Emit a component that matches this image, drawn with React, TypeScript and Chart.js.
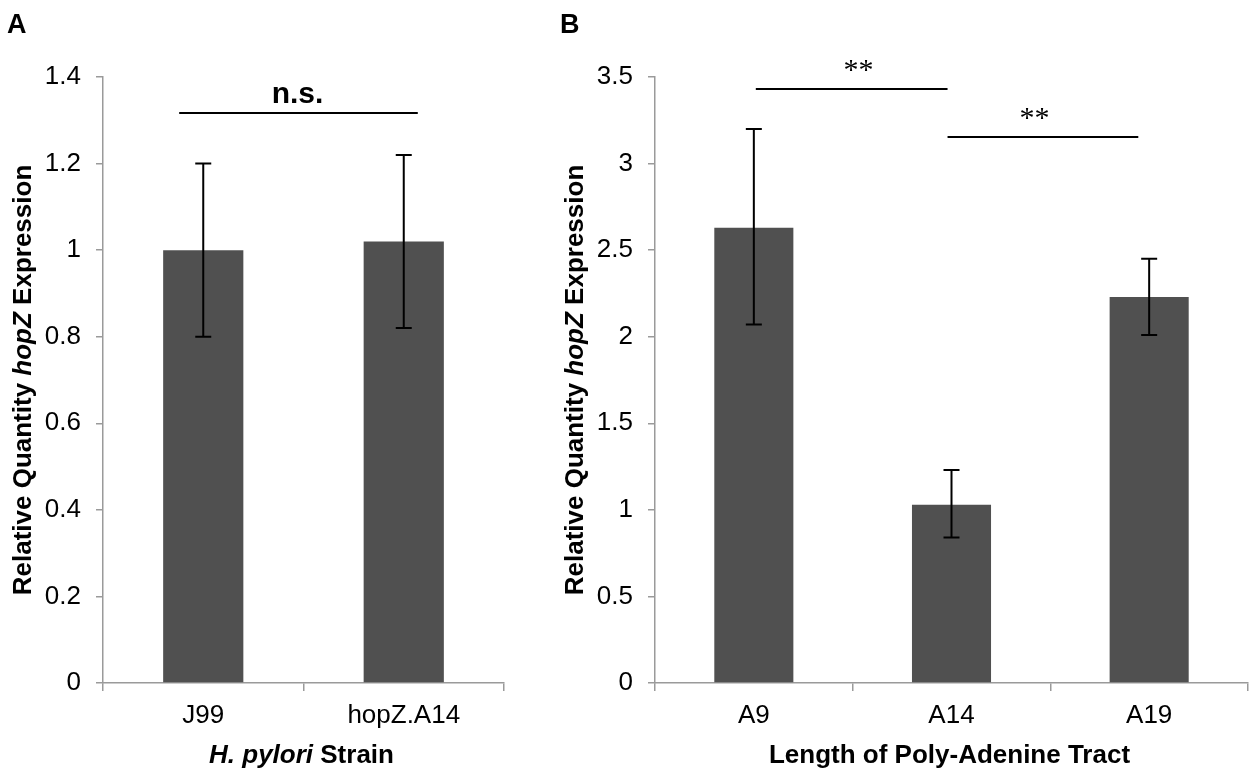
import React, { useEffect, useRef } from 'react';
import { Chart, registerables } from 'chart.js';

Chart.register(...registerables);

// ---------- Panel A data ----------
const strainCategories = ['J99', 'hopZ.A14'];
const strainValues = [1.0, 1.02];
const strainErrLow = [0.8, 0.82];
const strainErrHigh = [1.2, 1.22];
const strainYTicks = [0, 0.2, 0.4, 0.6, 0.8, 1, 1.2, 1.4];
const strainBrackets = [{ from: -0.12, to: 1.07, level: 1.317, label: 'n.s.', textAt: 0.47 }];

// ---------- Panel B data ----------
const tractCategories = ['A9', 'A14', 'A19'];
const tractValues = [2.63, 1.03, 2.23];
const tractErrLow = [2.07, 0.84, 2.01];
const tractErrHigh = [3.2, 1.23, 2.45];
const tractYTicks = [0, 0.5, 1, 1.5, 2, 2.5, 3, 3.5];
const tractBrackets = [
  { from: 0.01, to: 0.98, level: 3.43, label: '**', textAt: 0.53 },
  { from: 0.98, to: 1.945, level: 3.155, label: '**', textAt: 1.42 },
];

type Part = { text: string; italic: boolean };

const SANS = '"Liberation Sans", Arial, Helvetica, sans-serif';
const SERIF = '"Liberation Serif", "Times New Roman", serif';

function drawRich(ctx: CanvasRenderingContext2D, parts: Part[], cx: number, baseline: number, size: number) {
  const fonts = parts.map((p) => `${p.italic ? 'italic ' : ''}bold ${size}px ${SANS}`);
  const widths = parts.map((p, i) => {
    ctx.font = fonts[i];
    return ctx.measureText(p.text).width;
  });
  const total = widths.reduce((a, b) => a + b, 0);
  let x0 = cx - total / 2;
  ctx.textAlign = 'left';
  ctx.textBaseline = 'alphabetic';
  parts.forEach((p, i) => {
    ctx.font = fonts[i];
    ctx.fillText(p.text, x0, baseline);
    x0 += widths[i];
  });
}

const decorPlugin = {
  id: 'panelDecor',
  afterDatasetsDraw(chart: any, _args: any, opts: any) {
    const ctx: CanvasRenderingContext2D = chart.ctx;
    const xs = chart.scales.x;
    const ys = chart.scales.y;
    const meta = chart.getDatasetMeta(0);
    ctx.save();
    ctx.strokeStyle = '#000';
    ctx.fillStyle = '#000';
    ctx.lineWidth = 2;
    // error bars
    meta.data.forEach((bar: any, i: number) => {
      const cx = bar.x;
      const yl = ys.getPixelForValue(opts.errLow[i]);
      const yh = ys.getPixelForValue(opts.errHigh[i]);
      ctx.beginPath();
      ctx.moveTo(cx, yl);
      ctx.lineTo(cx, yh);
      ctx.moveTo(cx - 8, yl);
      ctx.lineTo(cx + 8, yl);
      ctx.moveTo(cx - 8, yh);
      ctx.lineTo(cx + 8, yh);
      ctx.stroke();
    });
    // significance brackets
    opts.brackets.forEach((b: any) => {
      const py = Math.round(ys.getPixelForValue(b.level));
      ctx.beginPath();
      ctx.moveTo(xs.getPixelForValue(b.from), py);
      ctx.lineTo(xs.getPixelForValue(b.to), py);
      ctx.stroke();
      ctx.font = opts.bracketFont;
      ctx.textAlign = 'center';
      ctx.textBaseline = 'alphabetic';
      ctx.fillText(b.label, xs.getPixelForValue(b.textAt), py - 10);
    });
    // panel letter
    ctx.font = `bold 27px ${SANS}`;
    ctx.textAlign = 'left';
    ctx.textBaseline = 'alphabetic';
    ctx.fillText(opts.letter, opts.letterX, 33);
    // x title
    const area = chart.chartArea;
    drawRich(ctx, opts.xTitle, (area.left + area.right) / 2 - 2, 763, 26);
    // y title
    ctx.save();
    ctx.translate(opts.yTitleX, (area.top + area.bottom) / 2);
    ctx.rotate(-Math.PI / 2);
    drawRich(ctx, opts.yTitle, 0, 0, 26);
    ctx.restore();
    ctx.restore();
  },
};

type PanelProps = {
  left: number;
  width: number;
  axisWidth: number;
  padRight: number;
  categories: string[];
  values: number[];
  errLow: number[];
  errHigh: number[];
  yTicks: number[];
  brackets: any[];
  bracketFont: string;
  letter: string;
  letterX: number;
  xTitle: Part[];
  yTitle: Part[];
  yTitleX: number;
};

function Panel(p: PanelProps) {
  const ref = useRef<HTMLCanvasElement | null>(null);
  useEffect(() => {
    if (!ref.current) return;
    const gray = '#9a9a9a';
    const chart = new Chart(ref.current, {
      type: 'bar',
      data: {
        labels: p.categories,
        datasets: [
          {
            data: p.values,
            backgroundColor: '#505050',
            borderWidth: 0,
            barPercentage: 1,
            categoryPercentage: 0.4,
          },
        ],
      },
      options: {
        responsive: false,
        animation: false,
        devicePixelRatio: 1,
        layout: { padding: { left: 0, right: p.padRight, top: 77, bottom: 0 } },
        plugins: {
          legend: { display: false },
          tooltip: { enabled: false },
          panelDecor: {
            errLow: p.errLow,
            errHigh: p.errHigh,
            brackets: p.brackets,
            bracketFont: p.bracketFont,
            letter: p.letter,
            letterX: p.letterX,
            xTitle: p.xTitle,
            yTitle: p.yTitle,
            yTitleX: p.yTitleX,
          },
        } as any,
        scales: {
          x: {
            offset: true,
            grid: {
              display: true,
              drawOnChartArea: false,
              drawTicks: true,
              tickLength: 8,
              color: gray,
              lineWidth: 1.5,
              offset: true,
            },
            border: { display: true, color: gray, width: 1.5 },
            ticks: {
              color: '#000',
              font: { family: SANS, size: 26 },
              padding: 9,
              maxRotation: 0,
              autoSkip: false,
            },
            afterFit: (scale: any) => {
              scale.height = 87;
            },
          },
          y: {
            min: p.yTicks[0],
            max: p.yTicks[p.yTicks.length - 1],
            afterBuildTicks: (scale: any) => {
              scale.ticks = p.yTicks.map((v) => ({ value: v }));
            },
            grid: {
              display: true,
              drawOnChartArea: false,
              drawTicks: true,
              tickLength: 7,
              color: gray,
              lineWidth: 1.5,
            },
            border: { display: true, color: gray, width: 1.5 },
            ticks: {
              color: '#000',
              font: { family: SANS, size: 26 },
              padding: 15,
              callback: (v: any) => String(Number(v)),
            },
            afterFit: (scale: any) => {
              scale.width = p.axisWidth;
            },
          },
        },
      },
      plugins: [decorPlugin as any],
    });
    return () => chart.destroy();
  }, []);
  return (
    <canvas
      ref={ref}
      width={p.width}
      height={770}
      style={{ position: 'absolute', left: p.left, top: 0, width: p.width, height: 770, display: 'block' }}
    />
  );
}

export default function App() {
  const yTitle: Part[] = [
    { text: 'Relative Quantity ', italic: false },
    { text: 'hopZ', italic: true },
    { text: ' Expression', italic: false },
  ];
  return (
    <div style={{ position: 'absolute', left: 0, top: 0, width: 1249, height: 770, background: '#fff', overflow: 'hidden' }}>
      <Panel
        left={0}
        width={540}
        axisWidth={103}
        padRight={36}
        categories={strainCategories}
        values={strainValues}
        errLow={strainErrLow}
        errHigh={strainErrHigh}
        yTicks={strainYTicks}
        brackets={strainBrackets}
        bracketFont={`bold 30px ${SANS}`}
        letter="A"
        letterX={7}
        xTitle={[
          { text: 'H. pylori', italic: true },
          { text: ' Strain', italic: false },
        ]}
        yTitle={yTitle}
        yTitleX={31}
      />
      <Panel
        left={540}
        width={709}
        axisWidth={115}
        padRight={1}
        categories={tractCategories}
        values={tractValues}
        errLow={tractErrLow}
        errHigh={tractErrHigh}
        yTicks={tractYTicks}
        brackets={tractBrackets}
        bracketFont={`30px ${SERIF}`}
        letter="B"
        letterX={20}
        xTitle={[{ text: 'Length of Poly-Adenine Tract', italic: false }]}
        yTitle={yTitle}
        yTitleX={43}
      />
    </div>
  );
}
